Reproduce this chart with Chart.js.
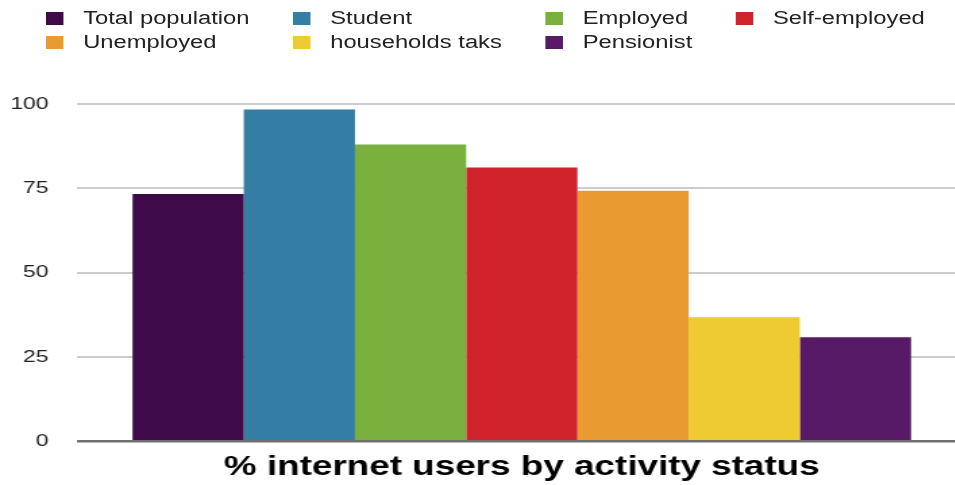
<!DOCTYPE html>
<html>
<head>
<meta charset="utf-8">
<script src="https://cdn.jsdelivr.net/npm/chart.js@4/dist/chart.umd.min.js"></script>
<style>
  html, body { margin: 0; padding: 0; background: #fff; overflow: hidden; }
  body { width: 955px; height: 485px; }
  #stage {
    position: absolute; left: 0; top: 0;
    width: 773px; height: 485px;
    transform: scaleX(1.35); transform-origin: 0 0;
  }
  #c { position: absolute; left: 0; top: 0; }
  #legend {
    position: absolute; left: 34px; top: 6.5px;
    display: grid;
    grid-template-columns: 183px 187px 141px auto;
    grid-auto-rows: 24px;
    font-family: "Liberation Sans", Arial, Helvetica, sans-serif;
    font-size: 17.6px; color: #222;
  }
  .item { display: flex; align-items: center; white-space: nowrap; }
  .swatch { width: 13px; height: 13px; margin-right: 14.6px; flex: none; }
</style>
</head>
<body>
<div id="stage">
  <canvas id="c" width="773" height="485"></canvas>
  <div id="legend"></div>
</div>
<script>
// Share of internet users (%) by activity status
const groups = ["Total population", "Student", "Employed", "Self-employed",
                "Unemployed", "households taks", "Pensionist"];
const shares = [73.3, 98.4, 88.0, 81.2, 74.3, 36.8, 30.8];
const colors = ["#3e0a47", "#347da4", "#7ab03d", "#d0222a",
                "#e89b30", "#edcb31", "#561a66"];
const yTicks = [0, 25, 50, 75, 100];
const titleText = "% internet users by activity status";

const FONT = '"Liberation Sans", Arial, Helvetica, sans-serif';

const datasets = groups.map((g, i) => ({
  label: g,
  data: [shares[i]],
  backgroundColor: colors[i],
  borderWidth: 0,
  barPercentage: 1,
  categoryPercentage: 0.875
}));

const chart = new Chart(document.getElementById("c"), {
  type: "bar",
  data: { labels: [""], datasets },
  options: {
    responsive: false,
    animation: false,
    layout: { padding: { top: 104, right: 57, bottom: 1, left: 8 } },
    plugins: {
      legend: { display: false },
      tooltip: { enabled: false },
      title: {
        display: true,
        position: "bottom",
        fullSize: false,          // centre the caption under the plot area
        text: titleText,
        color: "#000",
        font: { family: FONT, size: 27.3, weight: "bold" },
        padding: { top: 10, bottom: 0 }
      }
    },
    scales: {
      x: { display: false },
      y: {
        min: 0, max: 100,
        afterBuildTicks: (axis) => { axis.ticks = yTicks.map(v => ({ value: v })); },
        afterFit: (axis) => { axis.width = 49; },
        ticks: {
          color: "#222",
          padding: 21,
          font: { family: FONT, size: 17 }
        },
        grid: {
          drawTicks: false,
          color: (ctx) => ctx.tick && ctx.tick.value === 0 ? "#707070" : "#cccccc",
          lineWidth: (ctx) => ctx.tick && ctx.tick.value === 0 ? 2.5 : 2
        },
        border: { display: false }
      }
    }
  }
});

// Legend laid out as a four-column table at the top of the page
const legend = document.getElementById("legend");
chart.data.datasets.forEach(ds => {
  const item = document.createElement("div");
  item.className = "item";
  const sw = document.createElement("span");
  sw.className = "swatch";
  sw.style.background = ds.backgroundColor;
  const tx = document.createElement("span");
  tx.textContent = ds.label;
  item.appendChild(sw);
  item.appendChild(tx);
  legend.appendChild(item);
});
</script>
</body>
</html>
